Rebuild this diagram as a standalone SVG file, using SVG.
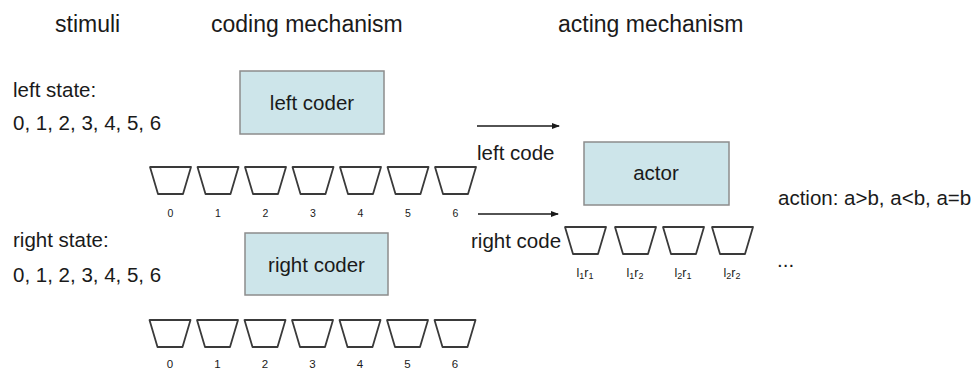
<svg xmlns="http://www.w3.org/2000/svg" width="976" height="375" viewBox="0 0 976 375">
<style>
text{font-family:"Liberation Sans",Arial,sans-serif;fill:#1a1a1a}
.t{font-size:23px}
.b{font-size:20.5px}
.d{font-size:10.5px;text-anchor:middle}
.d2{font-size:11.5px;text-anchor:middle}
.s{font-size:12.5px;text-anchor:middle}
.box{fill:#cde5ea;stroke:#8c8c8c;stroke-width:1.5}
.tr{fill:none;stroke:#3a3a3a;stroke-width:1.8;stroke-linejoin:round}
.ar{stroke:#1a1a1a;stroke-width:1.3;fill:none}
</style>
<defs>
<marker id="ah" markerWidth="8" markerHeight="6" refX="7" refY="3" orient="auto" markerUnits="userSpaceOnUse">
<path d="M0,0 L8,3 L0,6 Z" fill="#1a1a1a"/>
</marker>
<path id="tz" d="M0,0 H41 L33,27 H8 Z"/>
</defs>
<rect width="976" height="375" fill="#fff"/>
<g id="titles">
<text class="t" x="55" y="32">stimuli</text>
<text class="t" x="211" y="32">coding mechanism</text>
<text class="t" x="558" y="32">acting mechanism</text>
</g>
<g id="left-stimuli">
<text class="b" x="13" y="97">left state:</text>
<text class="b" x="13" y="130">0, 1, 2, 3, 4, 5, 6</text>
</g>
<g id="right-stimuli">
<text class="b" x="13" y="247">right state:</text>
<text class="b" x="13" y="282">0, 1, 2, 3, 4, 5, 6</text>
</g>
<g id="left-coder">
<rect class="box" x="240" y="71" width="144" height="63"/>
<text class="b" x="312" y="110" text-anchor="middle">left coder</text>
</g>
<g id="right-coder">
<rect class="box" x="245" y="233" width="143" height="62"/>
<text class="b" x="316.5" y="272" text-anchor="middle">right coder</text>
</g>
<g id="actor">
<rect class="box" x="584" y="142" width="145" height="63"/>
<text class="b" x="656" y="180" text-anchor="middle">actor</text>
</g>
<g id="left-units">
<use href="#tz" class="tr" x="150" y="167"/>
<use href="#tz" class="tr" x="197.5" y="167"/>
<use href="#tz" class="tr" x="245" y="167"/>
<use href="#tz" class="tr" x="292.5" y="167"/>
<use href="#tz" class="tr" x="340" y="167"/>
<use href="#tz" class="tr" x="387.5" y="167"/>
<use href="#tz" class="tr" x="435" y="167"/>
<text class="d" x="170.5" y="217">0</text>
<text class="d" x="218" y="217">1</text>
<text class="d" x="265.5" y="217">2</text>
<text class="d" x="313" y="217">3</text>
<text class="d" x="360.5" y="217">4</text>
<text class="d" x="408" y="217">5</text>
<text class="d" x="455.5" y="217">6</text>
</g>
<g id="right-units">
<use href="#tz" class="tr" x="149.5" y="320"/>
<use href="#tz" class="tr" x="197" y="320"/>
<use href="#tz" class="tr" x="244.5" y="320"/>
<use href="#tz" class="tr" x="292" y="320"/>
<use href="#tz" class="tr" x="339.5" y="320"/>
<use href="#tz" class="tr" x="387" y="320"/>
<use href="#tz" class="tr" x="434.5" y="320"/>
<text class="d2" x="170" y="368">0</text>
<text class="d2" x="217.5" y="368">1</text>
<text class="d2" x="265" y="368">2</text>
<text class="d2" x="312.5" y="368">3</text>
<text class="d2" x="360" y="368">4</text>
<text class="d2" x="407.5" y="368">5</text>
<text class="d2" x="455" y="368">6</text>
</g>
<g id="actor-units">
<use href="#tz" class="tr" x="565" y="227"/>
<use href="#tz" class="tr" x="615" y="227"/>
<use href="#tz" class="tr" x="663" y="227"/>
<use href="#tz" class="tr" x="712" y="227"/>
<text class="s" x="585" y="277">l<tspan font-size="9" dy="2">1</tspan><tspan dy="-2">r</tspan><tspan font-size="9" dy="2">1</tspan></text>
<text class="s" x="635" y="277">l<tspan font-size="9" dy="2">1</tspan><tspan dy="-2">r</tspan><tspan font-size="9" dy="2">2</tspan></text>
<text class="s" x="683" y="277">l<tspan font-size="9" dy="2">2</tspan><tspan dy="-2">r</tspan><tspan font-size="9" dy="2">1</tspan></text>
<text class="s" x="732" y="277">l<tspan font-size="9" dy="2">2</tspan><tspan dy="-2">r</tspan><tspan font-size="9" dy="2">2</tspan></text>
</g>
<g id="connectors">
<line class="ar" x1="477" y1="126" x2="559" y2="126" marker-end="url(#ah)"/>
<line class="ar" x1="478" y1="214" x2="558" y2="214" marker-end="url(#ah)"/>
</g>
<g id="labels">
<text class="b" x="477" y="160">left code</text>
<text class="b" x="471" y="248">right code</text>
<text class="b" x="778" y="205">action: a&gt;b, a&lt;b, a=b</text>
<text class="b" x="777" y="267">...</text>
</g>
</svg>
